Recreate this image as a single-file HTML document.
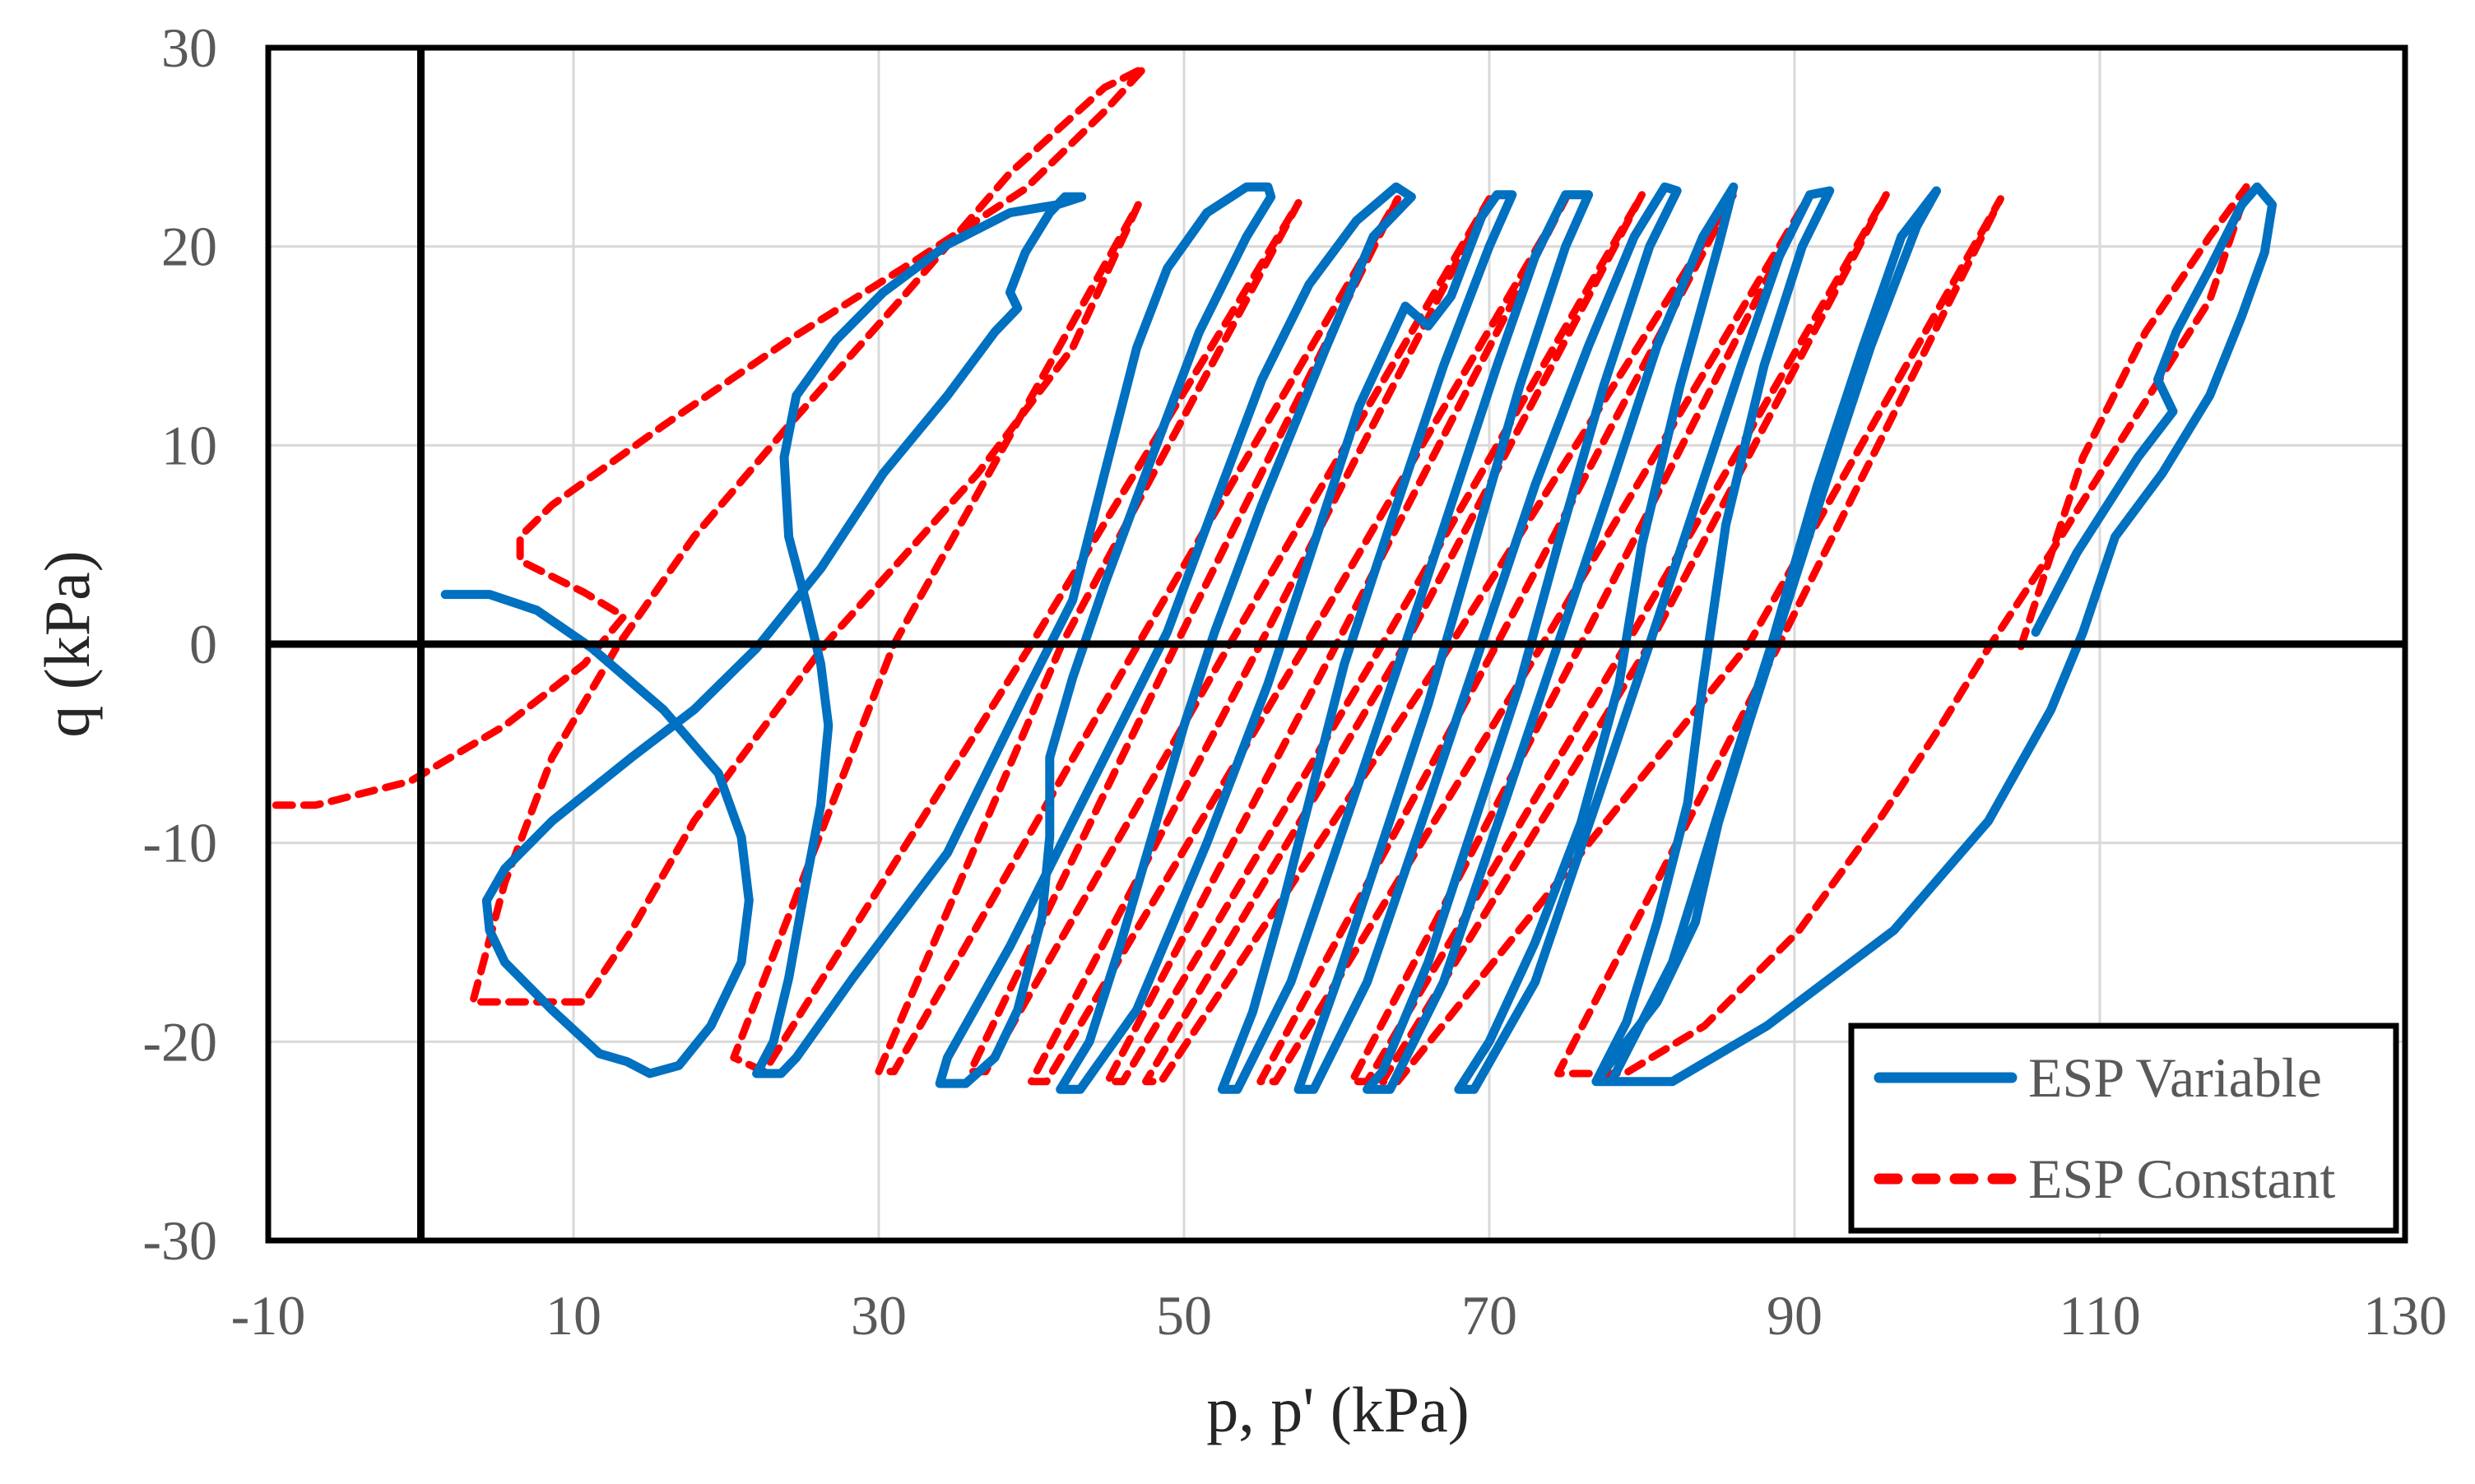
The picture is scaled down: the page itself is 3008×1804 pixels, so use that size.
<!DOCTYPE html>
<html><head><meta charset="utf-8"><style>
html,body{margin:0;padding:0;background:#fff;}
svg{display:block;}
text{font-family:"Liberation Serif",serif;}
</style></head><body>
<svg id="chart" width="3008" height="1804" viewBox="0 0 3008 1804" xmlns="http://www.w3.org/2000/svg">
<rect width="3008" height="1804" fill="#fff"/>
<g id="grid"></g>
<g id="series"></g>
<g id="axes"></g>
<g id="labels"></g>
<g id="legend"></g>
</svg>
<script>
const xTicks = [-10, 10, 30, 50, 70, 90, 110, 130];
const yTicks = [-30, -20, -10, 0, 10, 20, 30];
const xTickLabels = ["-10","10","30","50","70","90","110","130"];
const yTickLabels = ["-30","-20","-10","0","10","20","30"];
const seriesNames = ["ESP Variable", "ESP Constant"];
const espVariable = [[1.6,2.5],[4.5,2.5],[7.6,1.7],[11.2,-0.2],[15.9,-3.3],[19.5,-6.5],[21,-9.7],[21.5,-12.9],[21,-16],[19,-19.2],[16.9,-21.2],[15,-21.6],[13.5,-21],[11.7,-20.6],[8.6,-18.4],[5.5,-16],[4.5,-14.4],[4.3,-12.9],[5.5,-11.3],[8.6,-8.9],[13.8,-5.7],[17.9,-3.3],[22,-0.2],[26.2,3.8],[30.3,8.6],[34.5,12.5],[37.6,15.7],[39.1,16.9],[38.6,17.7],[39.6,19.7],[41.2,21.7],[42.2,22.5],[43.3,22.5],[41.7,22.1],[38.6,21.7],[34.5,20.1],[30.3,17.7],[27.2,15.3],[24.6,12.5],[23.8,9.4],[24.1,5.4],[25.2,2.2],[26.2,-1],[26.7,-4.1],[26.2,-8.1],[25.2,-12.1],[24.1,-16.8],[23.1,-20],[22,-21.6],[23.6,-21.6],[24.6,-20.8],
[28.3,-16.8],[34.5,-10.5],[39.6,-2.5],[42.7,2.2],[44.8,8.6],[46.9,14.9],[48.9,18.9],[51.5,21.7],[54.1,23],[55.5,23],[55.7,22.5],
[54.1,20.5],[51,15.7],[47.9,9.4],[44.8,3],[42.7,-1.7],[41.2,-5.7],[41.2,-9.7],[40.7,-13.7],[39.1,-18.4],[37.6,-20.8],[35.7,-22.1],[34,-22.1],[34.5,-20.8],
[38.6,-15.2],[44.8,-5.7],[48.9,0.6],[52,7],[55.1,13.3],[58.2,18.1],[61.3,21.3],[63.9,23],[64.9,22.5],
[62.4,20.5],[59.3,14.9],[55.1,7],[52,0.6],[50,-4.1],[47.9,-9.7],[45.8,-15.2],[43.8,-20],[41.9,-22.4],[43.2,-22.4],
[46.9,-18.4],[51.5,-10],[55.5,-2],[58.5,5],[61.5,12],[64.5,17],[66,16],[67.5,17.5],[69.5,21.5],[70.5,22.6],[71.5,22.6],
[70,20],[67,14],[63.5,6],[60.5,-1],[58.5,-7],[56.5,-13],[54.5,-18.5],[52.5,-22.4],[53.5,-22.4],
[57,-17],[61,-8],[64.5,0],[67.5,7],[70.5,14],[73,19.5],[75,22.6],[76.5,22.6],
[75,20],[72,13],[69,5],[66,-3],[63,-10],[60,-17],[57.5,-22.4],[58.5,-22.4],
[62,-17],[66,-8],[69.5,0],[73,8],[76.5,15],[79.5,20.5],[81.5,23],[82.3,22.8],
[80.5,20],[77.5,13],[74.5,5],[72,-2],[69,-9],[66,-16],[63,-21.5],[62,-22.4],[63.5,-22.4],
[67,-17],[71,-8],[74.5,0],[78,8],[81,15],[84,20.5],[86,23],
[85,20],[82.5,13],[80,5],[78.5,-2],[76,-9],[73,-15],[70,-20],[68,-22.4],[69,-22.4],
[73,-17],[77,-8],[80.5,0],[83.5,7],[86.5,14],[89,19.5],[91,22.6],[92.3,22.8],
[90.5,20],[88,14],[85.5,6],[84,-2],[83,-8],[81,-14],[79,-19],[77,-22],[78,-22],
[82,-16],[86,-6],[88.5,0],[91.5,8],[94.5,15],[97,20.5],[99.3,22.8],
[98,21],[95,15],[92,8],[89.5,2],[87,-4],[85,-9],[83.5,-14],[81,-18],[78.5,-20.5],[77,-22],[82,-22],[88.2,-19.2],[96.5,-14.4],[102.7,-8.9],[106.8,-3.3],[108.9,0.6],[111,5.4],[114.1,8.6],[117.2,12.5],[119.3,16.5],[120.8,19.7],[121.3,22.1],[120.3,23],[119.3,22.1],[117.2,18.9],[115,15.7],[113.8,13.3],[114.8,11.7],[112.5,9.4],[108.5,4.6],[105.8,0.6]];
const espConstant = [[-9.5,-8.1],[-6.9,-8.1],[-0.7,-6.9],[5.5,-4.1],[10.7,-1],[13.3,1.4],[10.7,2.6],[6.5,4.2],[6.5,5.4],[8.6,7],[15.9,11],[24.1,15.3],[32.4,19.3],[39.6,22.9],[44.8,26.8],[47.4,29],
[44.8,28],[38.6,23.7],[31.4,17.3],[24.1,11],[17.9,5.4],[12.8,-0.2],[8.6,-5.7],[5.5,-12],[3.4,-18],[10.7,-18],
[13.8,-14.4],[17.9,-8.9],[26.5,0],[36.5,8.6],[42.7,14.9],[47,22.1],
[31,0],[20.5,-20.8],[22.5,-21.5],
[40,0],[57.5,22.2],
[42,0],[30,-21.5],[31,-21.5],
[47,0],[64,22.4],
[49.5,0],[36,-21.5],[37,-21.5],
[53,0],[70,22.4],
[55,0],[40,-22],[41,-22],
[58,0],[75,22.4],
[60,0],[45,-22],[46,-22],
[63,0],[80,22.6],
[64.5,0],[47.5,-22],[48.5,-22],
[67.5,0],[86,22.6],
[70.5,0],[55,-22],[56,-22],
[73.5,0],[91,22.6],
[76,0],[61,-22],[62,-22],
[79,0],[96,22.6],
[80.5,0],[63,-22],[64,-22],
[87,0],[103.5,22.4],
[89,0],[74.5,-21.6],[78.9,-21.6],[84.1,-19.2],[90.3,-14.4],[95.5,-8.9],[99.6,-4.1],[102.7,-0.2],[106.8,4.6],[112,11],[117.2,17.3],[119.3,22.1],[119.6,23],[117.2,20.5],[113,15.7],[108.9,9.4],[104.8,-0.2]];

const L=326,R=2923,T=58,B=1508;
const xMin=-10,xMax=130,yMin=-30,yMax=30;
function sx(v){return L+(v-xMin)/(xMax-xMin)*(R-L);}
function sy(v){return B-(v-yMin)/(yMax-yMin)*(B-T);}
const NS="http://www.w3.org/2000/svg";
function mk(tag,parent,attrs){const e=document.createElementNS(NS,tag);for(const k in attrs)e.setAttribute(k,attrs[k]);parent.appendChild(e);return e;}
const grid=document.getElementById('grid'),series=document.getElementById('series'),axes=document.getElementById('axes'),labels=document.getElementById('labels'),legend=document.getElementById('legend');

xTicks.forEach((v,i)=>{
  const g=mk('line',grid,{x1:sx(v),x2:sx(v),y1:T,y2:B,stroke:'#d9d9d9','stroke-width':3});
  
  
  const t=mk('text',labels,{x:sx(v),y:1622,'font-size':68,fill:'#595959','text-anchor':'middle'});
  t.textContent=xTickLabels[i];
  
  
});
yTicks.forEach((v,i)=>{
  const g=mk('line',grid,{x1:L,x2:R,y1:sy(v),y2:sy(v),stroke:'#d9d9d9','stroke-width':3});
  
  
  const t=mk('text',labels,{x:264,y:sy(v)+23,'font-size':68,fill:'#595959','text-anchor':'end'});
  t.textContent=yTickLabels[i];
  
  
});

function pathD(arr){return arr.map((p,i)=>(i?'L':'M')+sx(p[0]).toFixed(1)+' '+sy(p[1]).toFixed(1)).join(' ');}
const pc=mk('path',series,{d:pathD(espConstant),fill:'none',stroke:'#ff0000','stroke-width':9,'stroke-dasharray':'20 14','stroke-linecap':'round','stroke-linejoin':'round'});


const pv=mk('path',series,{d:pathD(espVariable),fill:'none',stroke:'#0070c0','stroke-width':11,'stroke-linecap':'round','stroke-linejoin':'round'});



const ax0=mk('line',axes,{x1:sx(0),x2:sx(0),y1:T,y2:B,stroke:'#000','stroke-width':9});


const ay0=mk('line',axes,{x1:L,x2:R,y1:sy(0),y2:sy(0),stroke:'#000','stroke-width':9});


const fr=mk('rect',axes,{x:L,y:T,width:R-L,height:B-T,fill:'none',stroke:'#000','stroke-width':7});



const xt=mk('text',labels,{x:1626,y:1740,'font-size':78,fill:'#262626','text-anchor':'middle'});
xt.textContent="p, p' (kPa)";


const yt=mk('text',labels,{x:0,y:0,'font-size':78,fill:'#262626','text-anchor':'middle',transform:'translate(108,783) rotate(-90)'});
yt.textContent="q (kPa)";



const lb=mk('rect',legend,{x:2250,y:1247,width:662,height:249,fill:'#fff',stroke:'#000','stroke-width':7});


const l1=mk('line',legend,{x1:2284,x2:2445,y1:1310,y2:1310,stroke:'#0070c0','stroke-width':13,'stroke-linecap':'round'});


const t1=mk('text',legend,{x:2465,y:1333,'font-size':68,fill:'#595959'});
t1.textContent=seriesNames[0];


const l2=mk('line',legend,{x1:2284,x2:2445,y1:1433,y2:1433,stroke:'#ff0000','stroke-width':13,'stroke-linecap':'round','stroke-dasharray':'22 24'});


const t2=mk('text',legend,{x:2465,y:1456,'font-size':68,fill:'#595959'});
t2.textContent=seriesNames[1];


</script>
</body></html>
